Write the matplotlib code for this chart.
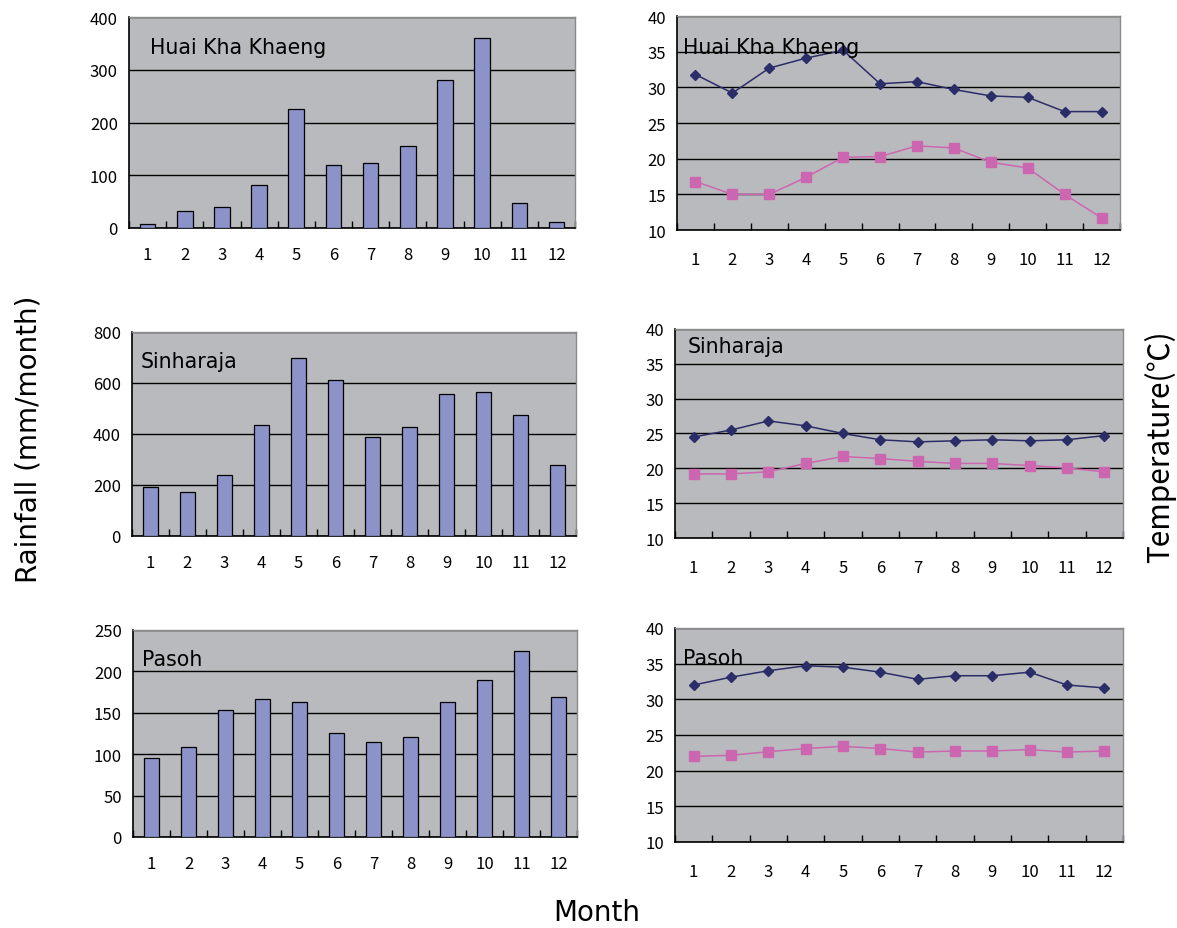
import matplotlib
matplotlib.use("Agg")
import matplotlib.pyplot as plt
import numpy as np

plt.rcParams['font.family'] = ['Noto Sans CJK JP', 'DejaVu Sans']

months = list(range(1, 13))
month_labels = [str(m) for m in months]

sites = ["Huai Kha Khaeng", "Sinharaja", "Pasoh"]

rain_hkk = [7, 32, 40, 82, 226, 120, 124, 156, 280, 361, 47, 11]
rain_sin = [193, 171, 239, 435, 696, 610, 390, 427, 555, 564, 473, 277]
rain_pas = [95, 109, 153, 167, 163, 125, 115, 121, 163, 190, 225, 169]

tmax_hkk = [31.8, 29.2, 32.7, 34.1, 35.2, 30.5, 30.8, 29.7, 28.8, 28.6, 26.6, 26.6]
tmin_hkk = [16.8, 15.0, 15.0, 17.4, 20.2, 20.3, 21.8, 21.5, 19.5, 18.7, 15.0, 11.7]
tmax_sin = [24.5, 25.5, 26.8, 26.1, 25.0, 24.1, 23.8, 23.95, 24.1, 23.95, 24.1, 24.7]
tmin_sin = [19.2, 19.2, 19.5, 20.7, 21.7, 21.4, 21.0, 20.7, 20.7, 20.4, 20.05, 19.5]
tmax_pas = [32.0, 33.1, 34.0, 34.7, 34.5, 33.8, 32.8, 33.3, 33.3, 33.8, 32.0, 31.6]
tmin_pas = [22.0, 22.15, 22.65, 23.1, 23.4, 23.1, 22.6, 22.75, 22.75, 22.95, 22.6, 22.75]

rain_ticks = [
    [0, 100, 200, 300, 400],
    [0, 200, 400, 600, 800],
    [0, 50, 100, 150, 200, 250],
]
temp_ticks = [10, 15, 20, 25, 30, 35, 40]

rain_data = [rain_hkk, rain_sin, rain_pas]
tmax_data = [tmax_hkk, tmax_sin, tmax_pas]
tmin_data = [tmin_hkk, tmin_sin, tmin_pas]

BG = "#b9babd"
BAR = "#8b93c9"
NAVY = "#2b2d68"
PINK = "#cc66b0"
LABEL_FONT = ['DejaVu Sans']

fig = plt.figure(figsize=(11.77, 9.29), dpi=100)

left_pos = [
    [0.1096, 0.7535, 0.3790, 0.2271],
    [0.1121, 0.4220, 0.3772, 0.2196],
    [0.1130, 0.0980, 0.3772, 0.2228],
]
right_pos = [
    [0.5752, 0.7513, 0.3764, 0.2304],
    [0.5735, 0.4198, 0.3806, 0.2250],
    [0.5735, 0.0926, 0.3806, 0.2304],
]
left_txt = [(0.047, 0.858), (0.020, 0.858), (0.020, 0.860)]
right_txt = [(0.014, 0.855), (0.029, 0.919), (0.018, 0.860)]


def style_axes(ax, yticks, label_pad):
    ax.set_facecolor(BG)
    ax.set_xlim(0.5, 12.5)
    ax.set_ylim(yticks[0], yticks[-1])
    ax.set_yticks(yticks)
    ax.set_yticklabels([str(t) for t in yticks], fontsize=12)
    ax.tick_params(axis='y', length=0, pad=8)
    # category boundaries as ticks, labels centred on months
    ax.set_xticks(np.arange(0.5, 13.0, 1.0))
    ax.set_xticklabels([])
    ax.set_xticks(months, minor=True)
    ax.set_xticklabels(month_labels, minor=True, fontsize=12)
    ax.tick_params(axis='x', which='major', direction='in', length=5,
                   width=1, color='black')
    ax.tick_params(axis='x', which='minor', length=0, pad=label_pad)
    ax.yaxis.grid(True, color='black', linewidth=1.0)
    ax.set_axisbelow(True)
    for s in ('top', 'right'):
        ax.spines[s].set_color('#8a8a8a')
        ax.spines[s].set_linewidth(1.0)
    for s in ('left', 'bottom'):
        ax.spines[s].set_color('black')
        ax.spines[s].set_linewidth(1.2)


for i in range(3):
    axl = fig.add_axes(left_pos[i])
    style_axes(axl, rain_ticks[i], 13)
    axl.bar(months, rain_data[i], width=0.42, color=BAR,
            edgecolor='black', linewidth=0.9, zorder=3)
    axl.text(left_txt[i][0], left_txt[i][1], sites[i], transform=axl.transAxes,
             fontsize=14.8, family=LABEL_FONT, ha='left', va='center', zorder=5)

    axr = fig.add_axes(right_pos[i])
    style_axes(axr, temp_ticks, 15)
    axr.plot(months, tmax_data[i], color=NAVY, linewidth=1.1, marker='D',
             markersize=5, zorder=4, clip_on=False)
    axr.plot(months, tmin_data[i], color=PINK, linewidth=1.1, marker='s',
             markersize=7, zorder=4, clip_on=False)
    axr.text(right_txt[i][0], right_txt[i][1], sites[i], transform=axr.transAxes,
             fontsize=14.8, family=LABEL_FONT, ha='left', va='center', zorder=5)

fig.text(0.024, 0.527, "Rainfall (mm/month)", rotation=90, fontsize=20,
         family=LABEL_FONT, ha='center', va='center')
fig.text(0.986, 0.519, "Temperature(℃)", rotation=90, fontsize=21.5,
         family=['Noto Sans CJK JP', 'DejaVu Sans'], ha='center', va='center')
fig.text(0.507, 0.017, "Month", fontsize=20, family=LABEL_FONT,
         ha='center', va='center')

fig.savefig("out.png", dpi=100)
